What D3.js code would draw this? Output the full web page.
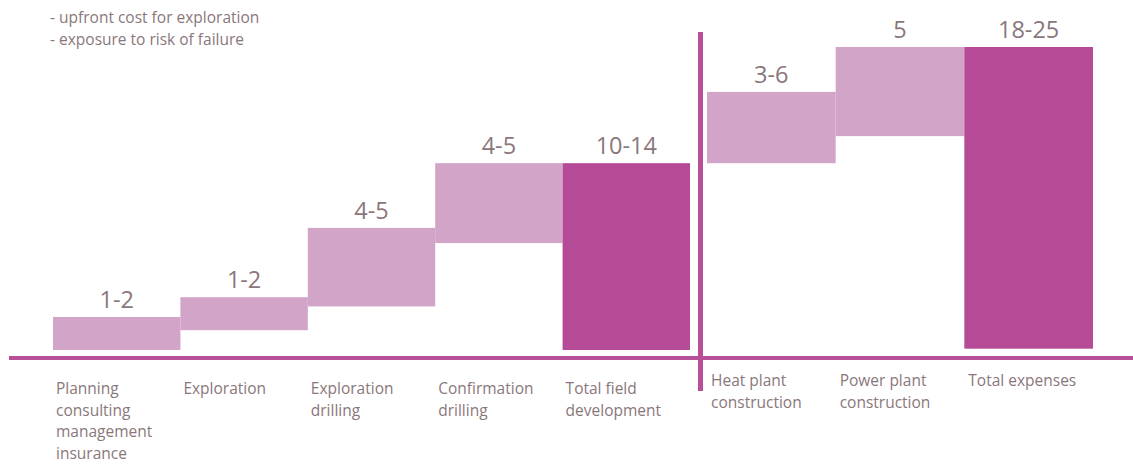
<!DOCTYPE html>
<html>
<head>
<meta charset="utf-8">
<script src="https://cdn.jsdelivr.net/npm/d3@7"></script>
<style>
  html, body { margin: 0; padding: 0; background: #fff; }
  svg { display: block; }
  text { font-family: "Open Sans", "Noto Sans", sans-serif; fill: #8a777b; }
</style>
</head>
<body>
<svg id="chart" width="1133" height="464"></svg>
<script>
// Field development stages (left group) and plant stages (right group)
const fieldStages = ["Planning\nconsulting\nmanagement\ninsurance", "Exploration", "Exploration\ndrilling", "Confirmation\ndrilling", "Total field\ndevelopment"];
const plantStages = ["Heat plant\nconstruction", "Power plant\nconstruction", "Total expenses"];

// Cost ranges printed above each bar
const fieldLabels = ["1-2", "1-2", "4-5", "4-5", "10-14"];
const plantLabels = ["3-6", "5", "18-25"];

// Floating bar extents (start / end) in cost units
const fieldStart = [0, 1.5, 3.3, 8.1, 0];
const fieldEnd   = [2.5, 4.0, 9.25, 14.15, 14.15];
const plantStart = [14.15, 16.2, 0.1];
const plantEnd   = [19.55, 22.95, 22.95];

// Which bars are totals
const fieldTotal = [false, false, false, false, true];
const plantTotal = [false, false, true];

const notes = ["- upfront cost for exploration", "- exposure to risk of failure"];

const svg = d3.select("#chart");
const light = "#d1a4c8", dark = "#b54a96", rule = "#b84f99";

const y = d3.scaleLinear().domain([0, 22.95]).range([350, 47]);
const xLeft = d3.scaleBand().domain(fieldStages).range([53, 690]).paddingInner(0);
const xRight = d3.scaleBand().domain(plantStages).range([707, 1093]).paddingInner(0);

function group(stages, starts, ends, labels, totals, x, textY, textDx) {
  const rows = stages.map((s, i) => ({ s, a: starts[i], b: ends[i], label: labels[i], total: totals[i] }));
  const g = svg.append("g");
  g.selectAll("rect").data(rows).join("rect")
    .attr("x", d => x(d.s))
    .attr("width", x.bandwidth())
    .attr("y", d => y(d.b))
    .attr("height", d => y(d.a) - y(d.b))
    .attr("fill", d => d.total ? dark : light);
  g.selectAll("text.val").data(rows).join("text")
    .attr("class", "val")
    .attr("x", d => x(d.s) + x.bandwidth() / 2)
    .attr("y", d => y(d.b) - 9)
    .attr("text-anchor", "middle")
    .style("font-size", "23.5px")
    .text(d => d.label);
  const cat = g.selectAll("text.cat").data(rows).join("text")
    .attr("class", "cat")
    .attr("x", d => x(d.s) + textDx)
    .attr("y", textY)
    .style("font-size", "15.5px");
  cat.selectAll("tspan").data(d => d.s.split("\n").map(t => ({ t, x: x(d.s) + textDx })))
    .join("tspan")
    .attr("x", t => t.x)
    .attr("dy", (t, i) => i === 0 ? 0 : 21.5)
    .text(t => t.t);
}

group(fieldStages, fieldStart, fieldEnd, fieldLabels, fieldTotal, xLeft, 394, 3);
group(plantStages, plantStart, plantEnd, plantLabels, plantTotal, xRight, 386, 4);

// Baseline and divider between field and plant stages
svg.append("line").attr("x1", 9).attr("x2", 1133).attr("y1", 358).attr("y2", 358)
  .attr("stroke", rule).attr("stroke-width", 4);
svg.append("line").attr("x1", 700.5).attr("x2", 700.5).attr("y1", 32).attr("y2", 391)
  .attr("stroke", rule).attr("stroke-width", 5);

// Notes in the top-left corner
svg.append("g").selectAll("text").data(notes).join("text")
  .attr("x", 50)
  .attr("y", (d, i) => 23 + i * 21.5)
  .style("font-size", "15.5px")
  .text(d => d);
</script>
</body>
</html>
